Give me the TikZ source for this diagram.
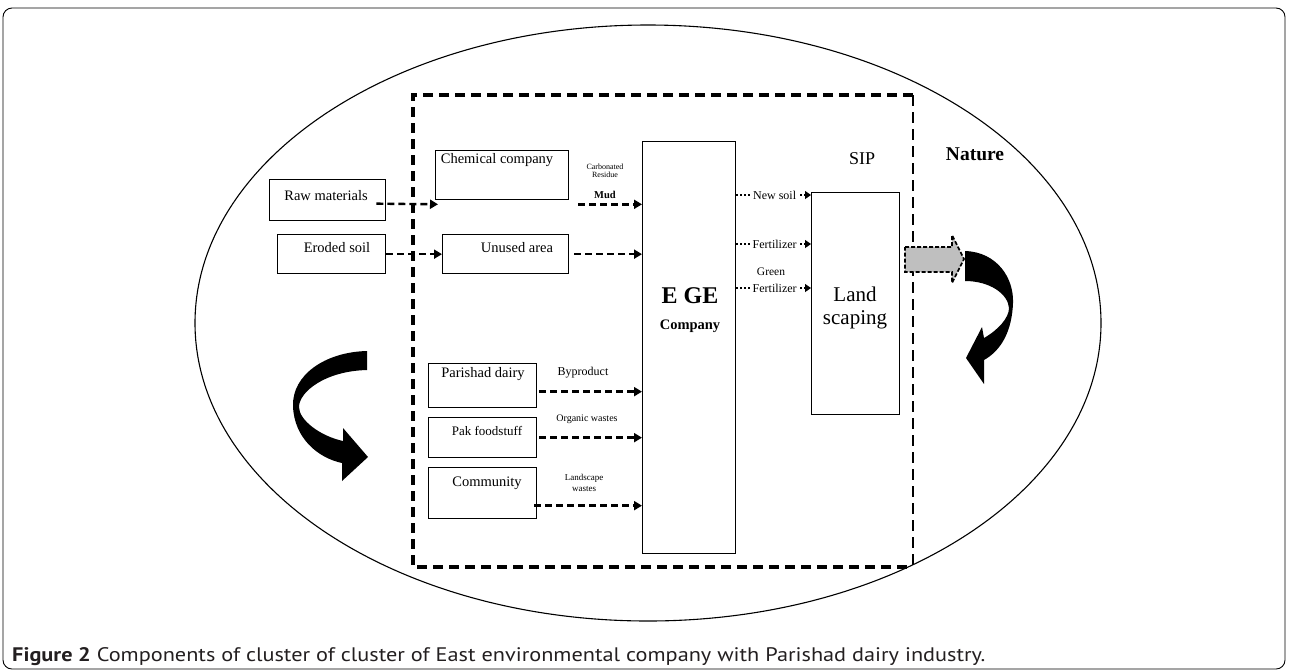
\documentclass[tikz,border=0pt]{standalone}
\usepackage{fontspec}
\setmainfont{Liberation Serif}
\newfontfamily\capfont{PT Sans}
\usetikzlibrary{arrows.meta,calc}
\definecolor{capcol}{HTML}{231F20}
\begin{document}
\begin{tikzpicture}[x=1pt,y=-1pt,
  box/.style={draw, line width=1.3pt, inner sep=0pt, anchor=north west},
  flow/.style={line width=2.4pt, dash pattern=on 7pt off 4pt, -{Triangle[length=8pt,width=9pt]}},
  thin flow/.style={line width=1.2pt, dash pattern=on 1.5pt off 2.5pt, -{Triangle[length=6pt,width=8pt]}},
  cluster/.style={line width=3.6pt, dash pattern=on 10pt off 6pt},
  txt/.style={inner sep=0pt, font=\fontsize{14.5}{16}\selectfont},
  small/.style={inner sep=0pt, font=\fontsize{10}{11}\selectfont, align=center},
  tiny/.style={inner sep=0pt, font=\fontsize{8}{9}\selectfont, align=center},
  onarrow/.style={fill=white, inner xsep=2.5pt, inner ysep=1pt, font=\fontsize{12}{13}\selectfont},
  bigarrow/.style={fill=black, draw=none}
]
\useasboundingbox (0,0) rectangle (1289,670);

% outer frame
\draw[line width=0.9pt, rounded corners=9pt] (3,8) rectangle (1285,669);

% nature ellipse
\draw[line width=1.1pt] (648,323) ellipse [x radius=453pt, y radius=298pt];

% SIP cluster boundary
\draw[cluster] (913,95) -- (413,95) -- (413,567) -- (913,567);
\draw[line width=2.6pt, dash pattern=on 11pt off 6pt] (913,95) -- (913,567);

% boxes
\node[box, minimum width=116pt, minimum height=41pt] (raw) at (269,179) {};
\node[box, minimum width=108pt, minimum height=39pt] (eroded) at (277,234) {};
\node[box, minimum width=133pt, minimum height=49pt] (chem) at (435,150) {};
\node[box, minimum width=126pt, minimum height=39pt] (unused) at (442,234) {};
\node[box, minimum width=93pt, minimum height=412pt] (ege) at (642,141) {};
\node[box, minimum width=88pt, minimum height=222pt] (land) at (811,192) {};
\node[box, minimum width=108pt, minimum height=44pt] (dairy) at (428,363) {};
\node[box, minimum width=108pt, minimum height=40pt] (pak) at (428,417) {};
\node[box, minimum width=108pt, minimum height=51pt] (comm) at (428,467) {};

% box texts
\node[txt] (tRaw) at (326,196) {Raw materials};
\node[txt] (tEro) at (337,248) {Eroded soil};
\node[txt] (tChem) at (497,160) {Chemical company};
\node[txt] (tUnu) at (517,248) {Unused area};
\node[txt] (tDai) at (483,374) {Parishad dairy};
\node[txt, font=\fontsize{13}{15}\selectfont] (tPak) at (487,431) {Pak foodstuff};
\node[txt] (tCom) at (487,483) {Community};
\node[inner sep=0pt, font=\fontsize{24}{26}\selectfont\bfseries] (tEGE) at (690,296) {E GE};
\node[inner sep=0pt, font=\fontsize{14.5}{16}\selectfont\bfseries] (tCo) at (690,326) {Company};
\node[inner sep=0pt, font=\fontsize{21}{23}\selectfont, align=center] (tLand) at (855,308) {Land\\scaping};
\node[inner sep=0pt, font=\fontsize{18}{20}\selectfont] (tSIP) at (862,159) {SIP};
\node[inner sep=0pt, font=\fontsize{19.5}{21}\selectfont\bfseries] (tNat) at (975,154) {Nature};

% inputs
\draw[flow] ($(raw.east)+(-10,3.5)$) -- ($(chem.south west)+(3,4)$);
\draw[flow] (eroded.east) -- (unused.west);
\draw[flow] ($(chem.south east)+(9,4)$) -- ($(chem.south east -| ege.west)+(0,4)$);
\draw[flow] ($(unused.east)+(5,0)$) -- (unused.east -| ege.west);
\draw[flow] ($(dairy.east)+(2,6)$) -- ($(dairy.east -| ege.west)+(0,6)$);
\draw[flow] ($(pak.east)+(2,0)$) -- (pak.east -| ege.west);
\draw[flow] ($(comm.east)+(-3,12.5)$) -- ($(comm.east -| ege.west)+(0,12.5)$);

% flow labels
\node[tiny] (lCarb) at (605,171) {Carbonated\\[-1pt]Residue};
\node[small, font=\fontsize{10.5}{11}\selectfont\bfseries] (lMud) at (605,195) {Mud};
\node[small, font=\fontsize{12}{13}\selectfont] (lBy) at (583,373) {Byproduct};
\node[small] (lOrg) at (587,419) {Organic wastes};
\node[small, font=\fontsize{9}{11}\selectfont] (lLand) at (584,483) {Landscape\\wastes};

% EGE to landscaping
\draw[thin flow] ($(land.north west -| ege.east)+(0,3)$) -- node[onarrow, xshift=1pt] (lNew) {New soil} ($(land.north west)+(0,3)$);
\draw[thin flow] ($(land.north west -| ege.east)+(0,52)$) -- node[onarrow, xshift=1pt] (lFer) {Fertilizer} ($(land.north west)+(0,52)$);
\draw[thin flow] ($(land.north west -| ege.east)+(0,96)$) -- node[onarrow, xshift=1pt] (lGF) {Fertilizer} ($(land.north west)+(0,96)$);
\node[inner sep=0pt, font=\fontsize{11.5}{12}\selectfont] (lGreen) at (771,272) {Green};

% gray output arrow
\filldraw[fill=gray!50, draw=black, line width=1.6pt, dash pattern=on 4pt off 2pt]
  (905,247) -- (952,247) -- (952,235) -- (964,259) -- (952,283) -- (952,272) -- (905,272) -- cycle;

% black curved arrows
\fill[bigarrow] (965,251) .. controls (997,252) and (1014,278) .. (1013,303)
  .. controls (1012,330) and (1002,350) .. (984,360) -- (984,384) -- (966,358) -- (982,327) -- (984,338)
  .. controls (998,330) and (1009,318) .. (1009,308)
  .. controls (1008,294) and (990,281) .. (965,281) -- cycle;
\fill[bigarrow] (367,351) .. controls (325,352) and (292,375) .. (293,406)
  .. controls (294,438) and (318,458) .. (342,463) -- (342,481) -- (368,457) -- (343,428) -- (343,441)
  .. controls (320,436) and (299,420) .. (299,407)
  .. controls (299,392) and (325,371) .. (367,370) -- cycle;

% caption
\node[anchor=base west, inner sep=0pt, text=capcol] (cap) at (12,661)
  {\resizebox{973pt}{14pt}{\capfont\textbf{Figure 2} Components of cluster of cluster of East environmental company with Parishad dairy industry.}};
\end{tikzpicture}
\end{document}
